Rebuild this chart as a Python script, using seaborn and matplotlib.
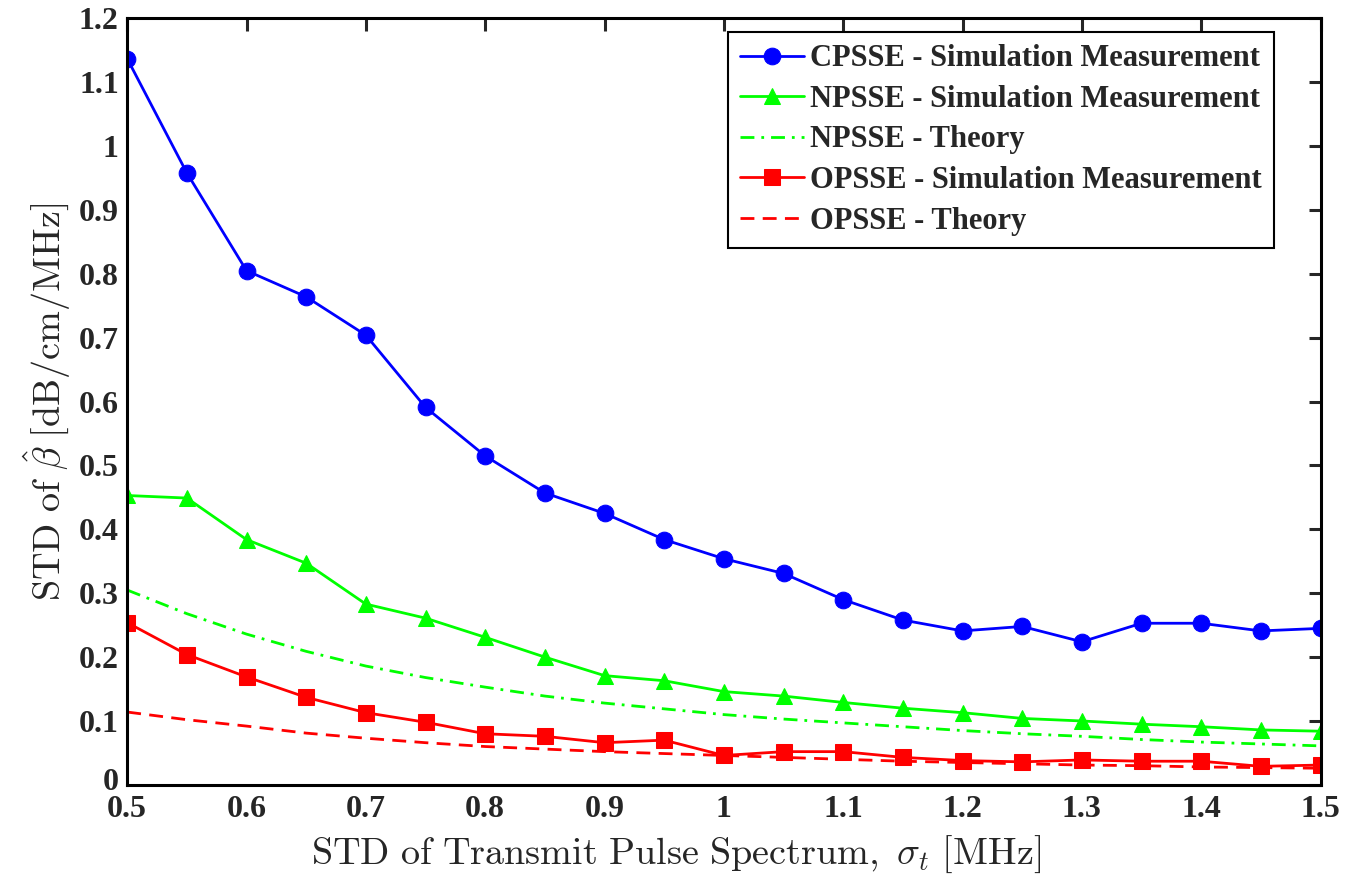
import numpy as np
import pandas as pd
import matplotlib
matplotlib.use("Agg")
import matplotlib.pyplot as plt
import matplotlib.transforms as mtransforms
import seaborn as sns

# x values: STD of transmit pulse spectrum [MHz]
sigma_t = [0.5, 0.55, 0.6, 0.65, 0.7, 0.75, 0.8, 0.85, 0.9, 0.95, 1.0,
           1.05, 1.1, 1.15, 1.2, 1.25, 1.3, 1.35, 1.4, 1.45, 1.5]

cpsse_sim = [1.137, 0.958, 0.805, 0.764, 0.704, 0.591, 0.515, 0.457, 0.425, 0.384, 0.354,
             0.331, 0.290, 0.258, 0.241, 0.248, 0.224, 0.253, 0.253, 0.241, 0.245]
npsse_sim = [0.453, 0.449, 0.384, 0.347, 0.283, 0.261, 0.231, 0.200, 0.171, 0.163, 0.146,
             0.139, 0.129, 0.120, 0.113, 0.104, 0.100, 0.095, 0.091, 0.086, 0.084]
npsse_theory = [0.305, 0.268, 0.236, 0.209, 0.186, 0.168, 0.153, 0.139, 0.128, 0.119, 0.110,
                0.103, 0.097, 0.091, 0.085, 0.080, 0.076, 0.071, 0.067, 0.064, 0.061]
opsse_sim = [0.254, 0.204, 0.169, 0.137, 0.113, 0.098, 0.080, 0.076, 0.066, 0.070, 0.046,
             0.052, 0.052, 0.043, 0.038, 0.036, 0.039, 0.037, 0.037, 0.029, 0.031]
opsse_theory = [0.114, 0.102, 0.092, 0.081, 0.073, 0.066, 0.060, 0.056, 0.052, 0.049, 0.046,
                0.043, 0.040, 0.037, 0.035, 0.033, 0.031, 0.030, 0.028, 0.027, 0.026]

labels = ["CPSSE - Simulation Measurement", "NPSSE - Simulation Measurement",
          "NPSSE - Theory", "OPSSE - Simulation Measurement", "OPSSE - Theory"]

sns.set_style("white")
plt.rcParams["font.family"] = ["Liberation Serif", "DejaVu Serif"]
plt.rcParams["mathtext.fontset"] = "cm"

blue, green, red = (0, 0, 1), (0, 1, 0), (1, 0, 0)

fig = plt.figure(figsize=(13.53, 8.74), dpi=100)
ax = fig.add_axes([0.094, 0.102, 0.882, 0.877])

sns.lineplot(x=sigma_t, y=cpsse_sim, ax=ax, color=blue, lw=2, marker="o",
             markersize=12, markeredgecolor=blue, label=labels[0])
sns.lineplot(x=sigma_t, y=npsse_sim, ax=ax, color=green, lw=2, marker="^",
             markersize=12, markeredgecolor=green, label=labels[1])
sns.lineplot(x=sigma_t, y=npsse_theory, ax=ax, color=green, lw=2,
             dashes=False, label=labels[2]).lines[-1].set_dashes((5, 2.5, 1, 2.5))
sns.lineplot(x=sigma_t, y=opsse_sim, ax=ax, color=red, lw=2, marker="s",
             markersize=11, markeredgecolor=red, label=labels[3])
sns.lineplot(x=sigma_t, y=opsse_theory, ax=ax, color=red, lw=2,
             dashes=False, label=labels[4]).lines[-1].set_dashes((5, 3))

ax.set_xlim(0.5, 1.5)
ax.set_ylim(0, 1.2)
ax.set_xticks(np.arange(0.5, 1.51, 0.1))
ax.set_xticklabels(["0.5", "0.6", "0.7", "0.8", "0.9", "1", "1.1", "1.2", "1.3", "1.4", "1.5"])
ax.set_yticks(np.arange(0, 1.21, 0.1))
ax.set_yticklabels(["0", "0.1", "0.2", "0.3", "0.4", "0.5", "0.6", "0.7", "0.8", "0.9", "1", "1.1", "1.2"])

for s in ax.spines.values():
    s.set_linewidth(2.2)
    s.set_color("black")
ax.tick_params(direction="in", length=9, width=2.2, top=True, right=True, labelsize=23)
ax.tick_params(axis="x", pad=7)
ax.tick_params(axis="y", pad=6)
for t in ax.get_xticklabels() + ax.get_yticklabels():
    t.set_fontweight("bold")

# nudge the "0" y label up a little so it clears the "0.5" x label in the corner
zero_lbl = ax.get_yticklabels()[0]
zero_lbl.set_transform(zero_lbl.get_transform() +
                       mtransforms.ScaledTranslation(0, 4 / 72, fig.dpi_scale_trans))

ax.set_xlabel(r"$\mathrm{STD\ of\ Transmit\ Pulse\ Spectrum,}\ \sigma_t\ \mathrm{[MHz]}$",
              fontsize=27.5)
ax.xaxis.set_label_coords(0.46, -0.064)
ax.set_ylabel(r"$\mathrm{STD\ of}\ \hat{\beta}\ \mathrm{[dB/cm/MHz]}$", fontsize=27.5, labelpad=4)

leg = ax.legend(loc="upper right", bbox_to_anchor=(1274 / 1353, 1 - 32 / 874),
                bbox_transform=fig.transFigure, borderaxespad=0,
                prop={"weight": "bold", "size": 22},
                handlelength=2.1, handletextpad=0.2, borderpad=0.4,
                fancybox=False, framealpha=1, labelspacing=0.38)
leg.get_frame().set_edgecolor("black")
leg.get_frame().set_linewidth(1.5)

fig.savefig("out.png", dpi=100)
